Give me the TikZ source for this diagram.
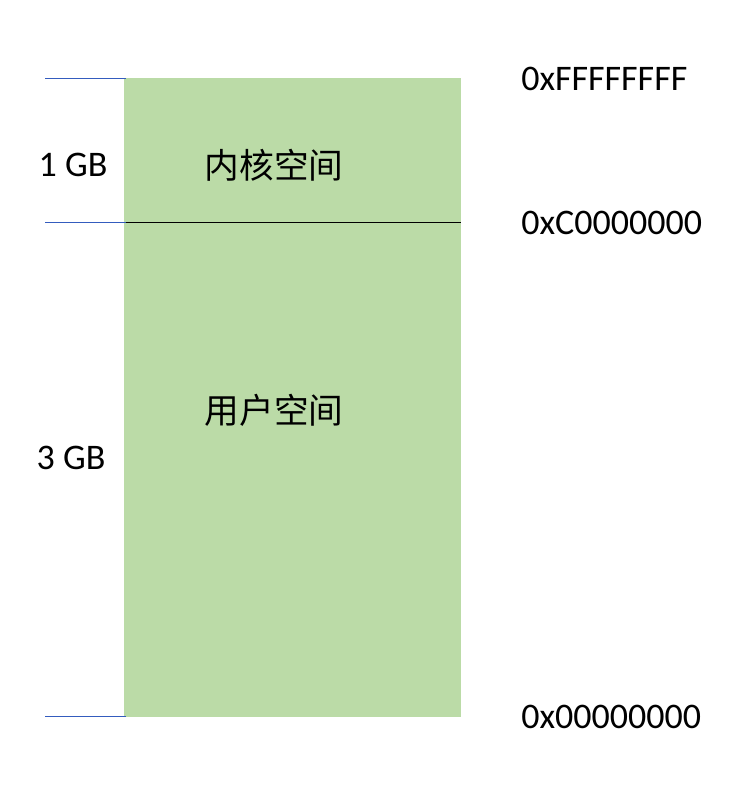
\documentclass[tikz,border=0pt]{standalone}
\usepackage{fontspec}
\setmainfont{Carlito}
\newfontfamily\cjk{Noto Sans CJK SC}
\usetikzlibrary{positioning}
\definecolor{espacio}{RGB}{187,219,167}
\definecolor{marca}{RGB}{52,92,190}
\tikzset{
  dir/.style={anchor=west, inner sep=0pt},
  tam/.style={inner sep=0pt},
  zona/.style={inner sep=0pt, font=\cjk\fontsize{26}{30}\selectfont},
  marca/.style={draw=marca, line width=1.1pt}
}
\begin{document}
\begin{tikzpicture}[x=0.75pt, y=-0.75pt, font=\fontsize{27}{32}\selectfont]
	\useasboundingbox (0,0) rectangle (740,792);
	% Bloque de memoria
		\fill[espacio] (124,78) rectangle (461,717);
		\coordinate (kizq) at (124,222.5);
		\coordinate (kder) at (461,222.5);
		\draw[black, line width=1.1pt] (kizq) -- (kder);
	% Marcas
		\coordinate (m1) at (45,78.5);   \coordinate (b1) at (126,78.5);
		\coordinate (m2) at (45,222.5);  \coordinate (b2) at (126,222.5);
		\coordinate (m3) at (45,716.5);  \coordinate (b3) at (126,716.5);
		\draw[marca] (m1) -- (b1);
		\draw[marca] (m2) -- (b2);
		\draw[marca] (m3) -- (b3);
	% Direcciones
		\node[dir] (dtop) at (521,78.5) {0xFFFFFFFF};
		\node[dir] (dmid) at (521,222.5) {0xC0000000};
		\node[dir] (dbot) at (521,716.5) {0x00000000};
	% Tamanos
		\node[tam] (gb1) at (73,165) {1 GB};
		\node[tam] (gb3) at (71,458) {3 GB};
	% Zonas
		\node[zona] (kernel) at (274,165) {内核空间};
		\node[zona] (usuario) at (274,410) {用户空间};
\end{tikzpicture}
\end{document}
